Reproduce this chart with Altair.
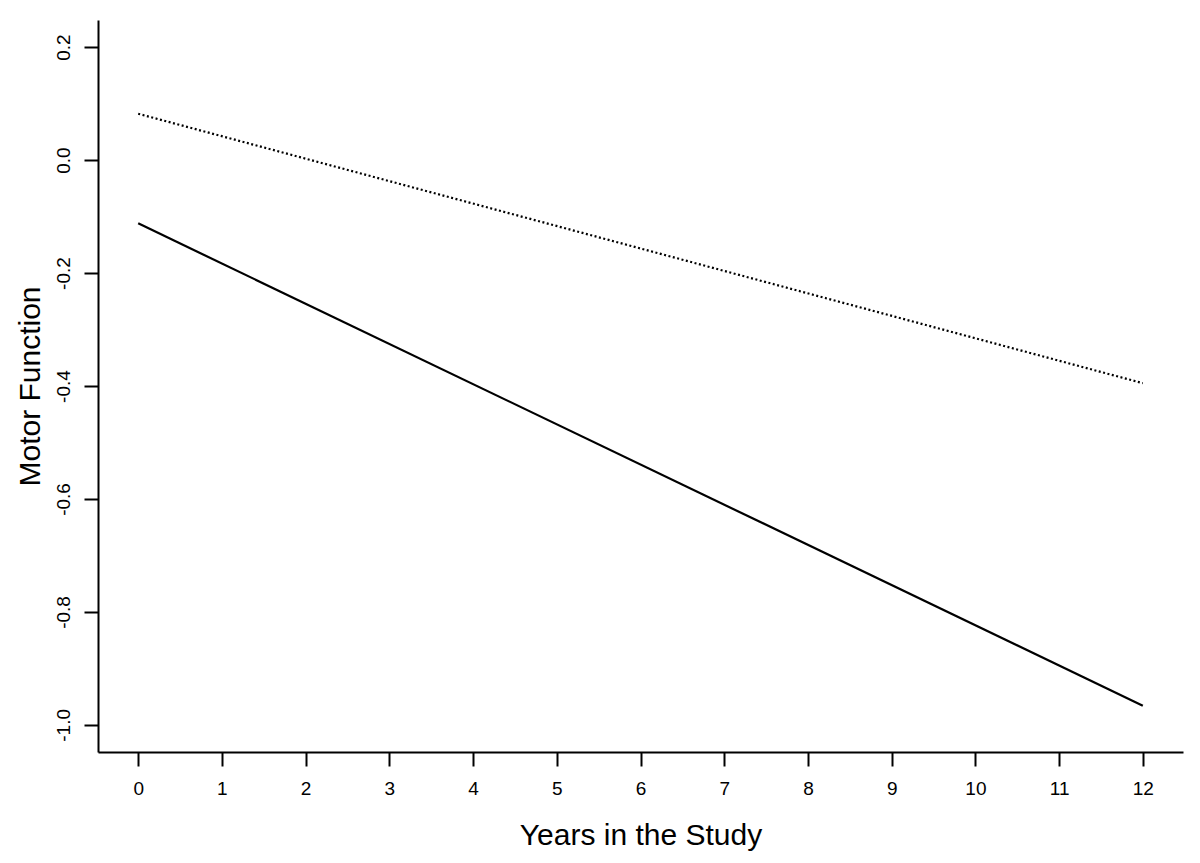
import altair as alt
import pandas as pd

years = [0, 12]
solid_vals = [-0.112, -0.966]
dotted_vals = [0.082, -0.395]
series_names = ["solid", "dotted"]

rows = []
for name, vals in zip(series_names, [solid_vals, dotted_vals]):
    for x, y in zip(years, vals):
        rows.append({"year": x, "value": y, "series": name})
df = pd.DataFrame(rows)

x_ticks = list(range(0, 13))
y_ticks = [-1.0, -0.8, -0.6, -0.4, -0.2, 0.0, 0.2]

FONT = "Liberation Sans"

x_enc = alt.X(
    "year:Q",
    scale=alt.Scale(domain=[-0.48, 12.48], nice=False, zero=False),
    axis=alt.Axis(
        values=x_ticks, format="d", title="Years in the Study", grid=False,
        domainColor="black", domainWidth=2, tickColor="black", tickWidth=2,
        tickSize=14, labelFont=FONT, labelFontSize=19, labelColor="black",
        labelPadding=13, titleFont=FONT, titleFontSize=30, titleFontWeight="normal",
        titleColor="black", titlePadding=22, labelFlush=False,
    ),
)
y_enc = alt.Y(
    "value:Q",
    scale=alt.Scale(domain=[-1.048, 0.248], nice=False, zero=False),
    axis=alt.Axis(
        values=y_ticks, format=".1f", title="Motor Function", grid=False,
        labelExpr="replace(datum.label, '\u2212', '-')",
        domainColor="black", domainWidth=2, tickColor="black", tickWidth=2,
        tickSize=14, labelFont=FONT, labelFontSize=19, labelColor="black",
        labelAngle=270, labelAlign="center", labelBaseline="bottom",
        labelPadding=11, titleFont=FONT, titleFontSize=30, titleFontWeight="normal",
        titleColor="black", titlePadding=9, labelFlush=False,
    ),
)

base = alt.Chart(df)
solid = base.transform_filter(alt.datum.series == "solid").mark_line(
    color="black", strokeWidth=2.2
).encode(x=x_enc, y=y_enc, detail="series:N")
dotted = base.transform_filter(alt.datum.series == "dotted").mark_line(
    color="black", strokeWidth=2.2, strokeDash=[2, 2.5]
).encode(x=x_enc, y=y_enc, detail="series:N")

chart = (
    alt.layer(solid, dotted)
    .properties(
        width=1085, height=732,
        autosize=alt.AutoSizeParams(type="none"),
        padding={"left": 90, "top": 12, "right": 8, "bottom": 100},
        background="white",
    )
    .configure_view(stroke=None)
)

chart.save("out.html", embed_options={"renderer": "svg", "actions": False})
